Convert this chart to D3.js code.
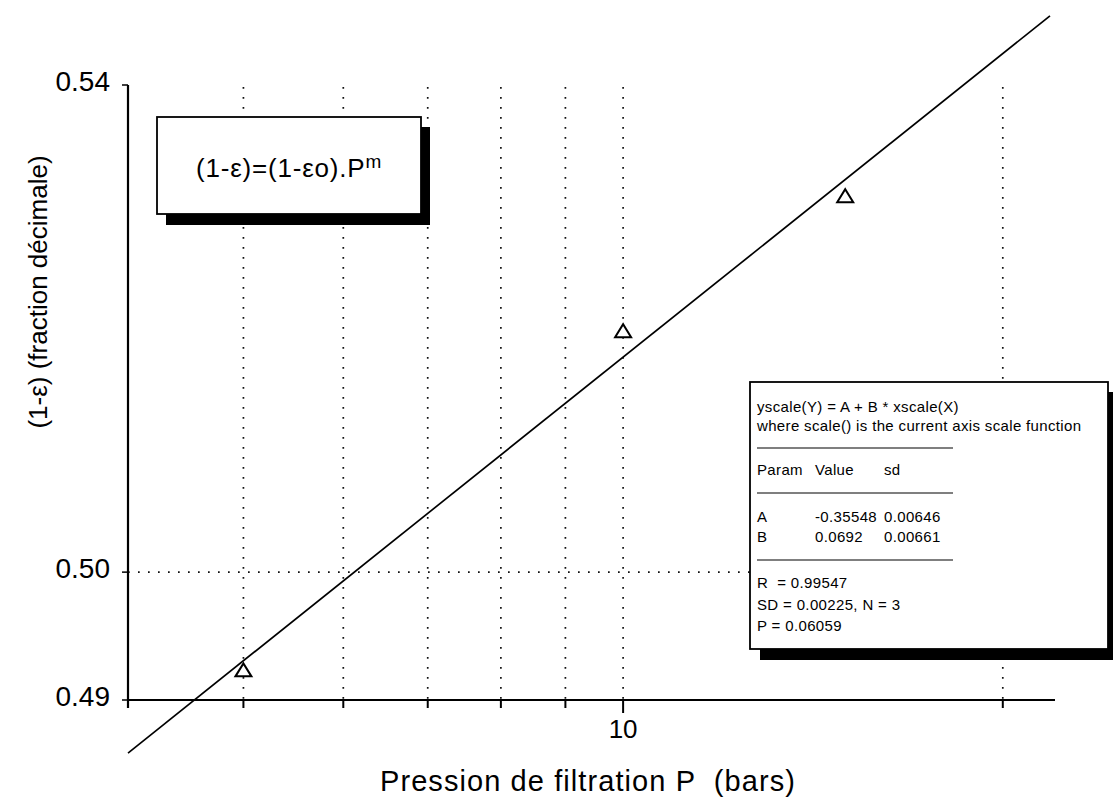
<!DOCTYPE html>
<html>
<head>
<meta charset="utf-8">
<script src="https://cdn.jsdelivr.net/npm/d3@7"></script>
<style>
  html, body { margin: 0; padding: 0; background: #fff; }
  svg { display: block; }
  text { font-family: "Liberation Sans", Arial, sans-serif; fill: #000; white-space: pre; }
</style>
</head>
<body>
<svg id="chart" width="1113" height="801"></svg>
<script>
// ---- data ----
const pressure = [5, 10, 15];
const fraction = [0.4923, 0.5194, 0.5306];
const xDomain = [4.05, 22];
const yDomain = [0.49, 0.54];
const xTickLabels = [10];
const xMinorTicks = [5, 6, 7, 8, 9, 20];
const xGridValues = [5, 6, 7, 8, 9, 10, 20];
const yTickLabels = [0.49, 0.50, 0.54];
const yGridValues = [0.50];
const fitA = -0.35548;
const fitB = 0.0692;
const fitRange = [4.05, 21.8];
const xTitle = "Pression de filtration P  (bars)";
const yTitle = "(1-\u03b5) (fraction décimale)";
const statsHeader = ["yscale(Y) = A + B * xscale(X)", "where scale() is the current axis scale function"];
const statsCols = ["Param", "Value", "sd"];
const statsRows = [["A", "-0.35548", "0.00646"], ["B", "0.0692", "0.00661"]];
const statsFooter = ["R  = 0.99547", "SD = 0.00225, N = 3", "P = 0.06059"];

// ---- scales ----
const svg = d3.select("#chart");
const x = d3.scaleLog().domain(xDomain).range([128, 1055]);
const y = d3.scaleLog().domain(yDomain).range([700, 85]);

// grid
const grid = svg.append("g").attr("stroke", "#111").attr("stroke-width", 1.7)
  .attr("stroke-dasharray", "1.7,8.3");
grid.selectAll("line.vg").data(xGridValues).join("line")
  .attr("x1", d => x(d)).attr("x2", d => x(d))
  .attr("y1", y(yDomain[1]) + 2).attr("y2", y(yDomain[0]));
grid.selectAll("line.hg").data(yGridValues).join("line")
  .attr("x1", x(xDomain[0])).attr("x2", x(xDomain[1]))
  .attr("y1", d => y(d)).attr("y2", d => y(d));

// x axis
const xAxisG = svg.append("g").attr("transform", `translate(0,${y(yDomain[0])})`);
xAxisG.append("line").attr("x1", x(xDomain[0])).attr("x2", x(xDomain[1]))
  .attr("y1", 0).attr("y2", 0).attr("stroke", "#000").attr("stroke-width", 2.2);
xAxisG.selectAll("line.minor").data(xMinorTicks).join("line")
  .attr("x1", d => x(d)).attr("x2", d => x(d)).attr("y1", 0).attr("y2", 8)
  .attr("stroke", "#000").attr("stroke-width", 2);
xAxisG.selectAll("line.major").data(xTickLabels).join("line")
  .attr("x1", d => x(d)).attr("x2", d => x(d)).attr("y1", 0).attr("y2", 13)
  .attr("stroke", "#000").attr("stroke-width", 2);
xAxisG.selectAll("text").data(xTickLabels).join("text")
  .attr("x", d => x(d)).attr("y", 38).attr("text-anchor", "middle")
  .attr("font-size", 26).text(d => d);

// y axis
const yAxisG = svg.append("g").attr("transform", `translate(${x(xDomain[0])},0)`);
yAxisG.append("line").attr("x1", 0).attr("x2", 0)
  .attr("y1", y(yDomain[1])).attr("y2", y(yDomain[0]) + 8)
  .attr("stroke", "#000").attr("stroke-width", 2.2);
yAxisG.selectAll("line.tick").data(yTickLabels).join("line")
  .attr("x1", -6).attr("x2", 0).attr("y1", d => y(d)).attr("y2", d => y(d))
  .attr("stroke", "#000").attr("stroke-width", 1.5);
yAxisG.selectAll("text").data(yTickLabels).join("text")
  .attr("x", -18).attr("y", d => y(d) + 6).attr("text-anchor", "end")
  .attr("font-size", 28).text(d => d3.format(".2f")(d));

// axis titles
svg.append("text").attr("x", 380).attr("y", 791)
  .attr("font-size", 29).attr("textLength", 415).attr("lengthAdjust", "spacing").text(xTitle);
svg.append("text").attr("transform", "translate(47,292) rotate(-90)")
  .attr("text-anchor", "middle").attr("font-size", 26).text(yTitle);

// fit line
const fitLine = d3.line().x(d => x(d[0])).y(d => y(d[1]));
svg.append("path")
  .datum(fitRange.map(p => [p, Math.pow(10, fitA + fitB * Math.log10(p))]))
  .attr("d", fitLine).attr("fill", "none").attr("stroke", "#000").attr("stroke-width", 1.7);

// data points (triangles)
const tri = "M-8,6L8,6L0,-7Z";
svg.selectAll("path.pt").data(pressure.map((p, i) => [p, fraction[i]])).join("path")
  .attr("class", "pt")
  .attr("transform", d => `translate(${x(d[0])},${y(d[1])})`)
  .attr("d", tri).attr("fill", "#fff").attr("stroke", "#000").attr("stroke-width", 2);

// equation box
const eq = svg.append("g");
eq.append("rect").attr("x", 166).attr("y", 127).attr("width", 264).attr("height", 98).attr("fill", "#000");
eq.append("rect").attr("x", 157).attr("y", 117).attr("width", 264).attr("height", 97)
  .attr("fill", "#fff").attr("stroke", "#000").attr("stroke-width", 1.8);
const eqText = eq.append("text").attr("x", 196).attr("y", 177).attr("font-size", 26)
  .attr("letter-spacing", 0.8);
eqText.append("tspan").text("(1-\u03b5)=(1-\u03b5o).P");
eqText.append("tspan").attr("dy", -9).attr("font-size", 19).text("m");

// stats box
const st = svg.append("g");
st.append("rect").attr("x", 760).attr("y", 392).attr("width", 360).attr("height", 268).attr("fill", "#000");
st.append("rect").attr("x", 750).attr("y", 382).attr("width", 358).attr("height", 267)
  .attr("fill", "#fff").attr("stroke", "#000").attr("stroke-width", 1.8);
const fs = 15;
const ls = 0.35;
const colX = [757, 815, 884];
st.selectAll("text.h").data(statsHeader).join("text")
  .attr("x", colX[0]).attr("y", (d, i) => 412 + i * 19).attr("font-size", fs)
  .attr("letter-spacing", ls).text(d => d);
st.selectAll("line.sep").data([448, 493, 560]).join("line")
  .attr("x1", 757).attr("x2", 953).attr("y1", d => d).attr("y2", d => d)
  .attr("stroke", "#000").attr("stroke-width", 1.2);
st.selectAll("text.c").data(statsCols).join("text")
  .attr("x", (d, i) => colX[i]).attr("y", 475).attr("font-size", fs)
  .attr("letter-spacing", ls).text(d => d);
statsRows.forEach((row, r) => {
  st.selectAll(null).data(row).join("text")
    .attr("x", (d, i) => colX[i]).attr("y", 522 + r * 20).attr("font-size", fs)
    .attr("letter-spacing", ls).text(d => d);
});
st.selectAll("text.f").data(statsFooter).join("text")
  .attr("x", colX[0]).attr("y", (d, i) => 588 + i * 21.5).attr("font-size", fs)
  .attr("letter-spacing", ls).text(d => d);
</script>
</body>
</html>
